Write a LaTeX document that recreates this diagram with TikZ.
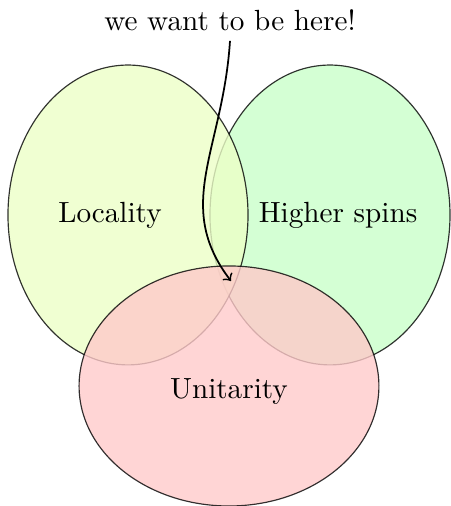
\documentclass[tikz,border=0pt]{standalone}
\usepackage{tikz}
\usetikzlibrary{shapes.geometric}

\definecolor{locfill}{RGB}{236,255,199}
\definecolor{hsfill}{RGB}{201,255,201}
\definecolor{unifill}{RGB}{255,202,202}

\begin{document}
\begin{tikzpicture}[
    set/.style={ellipse, draw=black, thin, opacity=0.8, inner sep=0pt, outer sep=0pt},
    tall/.style={set, minimum width=2.89cm, minimum height=3.61cm},
    wide/.style={set, minimum width=3.61cm, minimum height=2.89cm},
    lbl/.style={font=\normalsize},
  ]
    \useasboundingbox (0,0) rectangle (5.418,6.092);

    % the three sets
    \node[tall, fill=hsfill]  (hs)  at (3.973,3.504) {};
    \node[tall, fill=locfill] (loc) at (1.541,3.504) {};
    \node[wide, fill=unifill] (uni) at (2.757,1.445) {};

    \node[lbl] (locl) at (1.324,3.504) {Locality};
    \node[lbl] (hsl)  at (4.070,3.504) {Higher spins};
    \node[lbl] (unil) at (2.757,1.373) {Unitarity};

    % where we want to be
    \node[lbl] (goal) at (2.769,5.851) {we want to be here!};
    \coordinate (here) at (2.781,2.709);
    \draw[->, semithick] (goal.south) .. controls (2.685,4.286) and (2.083,3.624) .. (here);
\end{tikzpicture}
\end{document}
